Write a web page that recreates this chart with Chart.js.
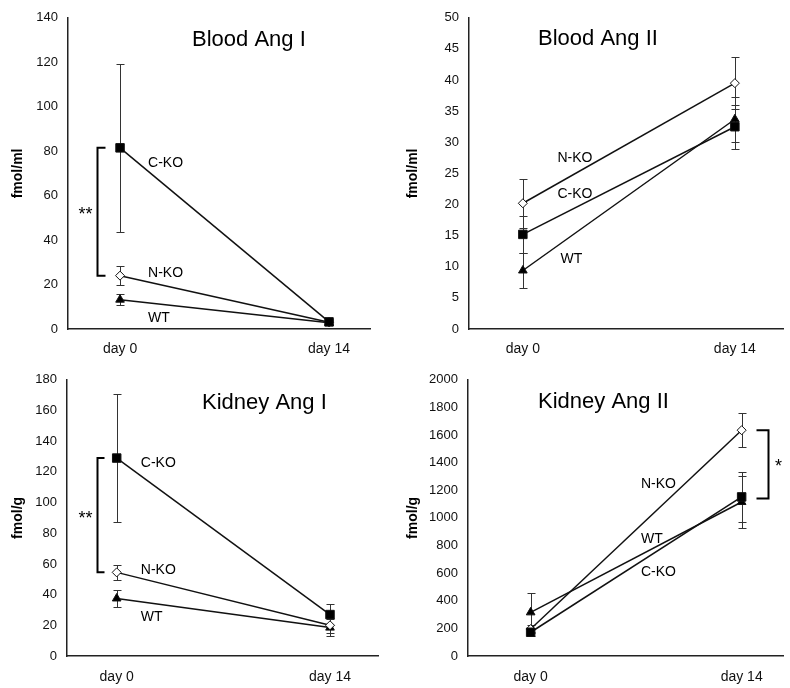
<!DOCTYPE html>
<html>
<head>
<meta charset="utf-8">
<script src="https://cdn.jsdelivr.net/npm/chart.js@4.4.0/dist/chart.umd.min.js"></script>
<style>
  body { margin: 0; background: #fff; width: 790px; height: 688px; position: relative; overflow: hidden; }
  canvas { position: absolute; }
</style>
</head>
<body>
<canvas id="bloodAngI" width="395" height="362" style="left:0;top:0"></canvas>
<canvas id="bloodAngII" width="395" height="362" style="left:395px;top:0"></canvas>
<canvas id="kidneyAngI" width="395" height="326" style="left:0;top:362px"></canvas>
<canvas id="kidneyAngII" width="395" height="326" style="left:395px;top:362px"></canvas>
<script>
// x categories
const days = ['day 0', 'day 14'];

// Blood Ang I (fmol/ml): mean and error, [day 0, day 14]
const bloodAngI_CKO = [81.5, 3.2];
const bloodAngI_CKO_err = [37.8, 1.5];
const bloodAngI_NKO = [24, 3];
const bloodAngI_NKO_err = [4.2, 1];
const bloodAngI_WT = [13.2, 2.8];
const bloodAngI_WT_err = [2.4, 1];

// Blood Ang II (fmol/ml)
const bloodAngII_CKO = [15.2, 32.5];
const bloodAngII_CKO_err = [3, 3.5];
const bloodAngII_NKO = [20.2, 39.5];
const bloodAngII_NKO_err = [3.9, 4.2];
const bloodAngII_WT = [9.4, 33.7];
const bloodAngII_WT_err = [2.8, 3.6];

// Kidney Ang I (fmol/g)
const kidneyAngI_CKO = [129, 27];
const kidneyAngI_CKO_err = [41.8, 7];
const kidneyAngI_NKO = [54.5, 20];
const kidneyAngI_NKO_err = [4.9, 5];
const kidneyAngI_WT = [37.5, 18.5];
const kidneyAngI_WT_err = [5.8, 5.5];

// Kidney Ang II (fmol/g)
const kidneyAngII_CKO = [172, 1152];
const kidneyAngII_CKO_err = [25, 180];
const kidneyAngII_NKO = [195, 1635];
const kidneyAngII_NKO_err = [30, 125];
const kidneyAngII_WT = [316, 1115];
const kidneyAngII_WT_err = [140, 185];

Chart.defaults.font.family = '"Liberation Sans", Arial, sans-serif';
Chart.defaults.color = '#111';

function series(cko, ckoErr, nko, nkoErr, wt, wtErr) {
    return [
        { name: 'C-KO', values: cko, err: ckoErr, style: 'rect', radius: 6, fill: '#000' },
        { name: 'N-KO', values: nko, err: nkoErr, style: 'rectRot', radius: 4.5, fill: '#fff' },
        { name: 'WT', values: wt, err: wtErr, style: 'triangle', radius: 5, fill: '#000' }
    ];
}

const panels = [
    {
        id: 'bloodAngI', title: 'Blood Ang I', unit: 'fmol/ml', yMax: 140, yStep: 20,
        width: 395, height: 362, area: { left: 68, right: 370, top: 15, bottom: 329 },
        xMin: -0.249, xMax: 1.196, xPad: 12,
        series: series(bloodAngI_CKO, bloodAngI_CKO_err, bloodAngI_NKO, bloodAngI_NKO_err, bloodAngI_WT, bloodAngI_WT_err),
        titlePos: { x: 192, y: 40 },
        labels: [
            { text: 'C-KO', x: 0.134, y: 74.5 },
            { text: 'N-KO', x: 0.134, y: 25 },
            { text: 'WT', x: 0.134, y: 4.9 }
        ],
        bracket: { x: -0.11, top: bloodAngI_CKO[0], bottom: bloodAngI_NKO[0], arm: 8, star: '**', starDx: -12, starY: 53 }
    },
    {
        id: 'bloodAngII', title: 'Blood Ang II', unit: 'fmol/ml', yMax: 50, yStep: 5,
        width: 395, height: 362, area: { left: 74, right: 390, top: 16, bottom: 329 },
        xMin: -0.254, xMax: 1.227, xPad: 12,
        series: series(bloodAngII_CKO, bloodAngII_CKO_err, bloodAngII_NKO, bloodAngII_NKO_err, bloodAngII_WT, bloodAngII_WT_err),
        titlePos: { x: 143, y: 39 },
        labels: [
            { text: 'N-KO', x: 0.163, y: 27.5 },
            { text: 'C-KO', x: 0.163, y: 21.7 },
            { text: 'WT', x: 0.178, y: 11.3 }
        ]
    },
    {
        id: 'kidneyAngI', title: 'Kidney Ang I', unit: 'fmol/g', yMax: 180, yStep: 20,
        width: 395, height: 326, area: { left: 67, right: 378, top: 7, bottom: 294 },
        xMin: -0.233, xMax: 1.225, xPad: 13,
        series: series(kidneyAngI_CKO, kidneyAngI_CKO_err, kidneyAngI_NKO, kidneyAngI_NKO_err, kidneyAngI_WT, kidneyAngI_WT_err),
        titlePos: { x: 202, y: 41 },
        labels: [
            { text: 'C-KO', x: 0.113, y: 125.5 },
            { text: 'N-KO', x: 0.113, y: 55.8 },
            { text: 'WT', x: 0.113, y: 25 }
        ],
        bracket: { x: -0.092, top: kidneyAngI_CKO[0], bottom: kidneyAngI_NKO[0], arm: 7, star: '**', starDx: -12, starY: 91.6 }
    },
    {
        id: 'kidneyAngII', title: 'Kidney Ang II', unit: 'fmol/g', yMax: 2000, yStep: 200,
        width: 395, height: 326, area: { left: 73, right: 390, top: 7, bottom: 294 },
        xMin: -0.297, xMax: 1.196, xPad: 13,
        series: series(kidneyAngII_CKO, kidneyAngII_CKO_err, kidneyAngII_NKO, kidneyAngII_NKO_err, kidneyAngII_WT, kidneyAngII_WT_err),
        titlePos: { x: 143, y: 40 },
        labels: [
            { text: 'N-KO', x: 0.523, y: 1247 },
            { text: 'WT', x: 0.523, y: 843 },
            { text: 'C-KO', x: 0.523, y: 606 }
        ],
        bracket: { x: 1.125, top: kidneyAngII_NKO[1], bottom: 1140, arm: -12, star: '*', starDx: 10, starY: 1394 }
    }
];

// error bars drawn under the markers
const errorBars = {
    id: 'errorBars',
    beforeDatasetsDraw(chart) {
        const { ctx, scales: { x, y } } = chart;
        ctx.save();
        ctx.strokeStyle = '#333';
        ctx.lineWidth = 1;
        chart.data.datasets.forEach(ds => {
            ds.data.forEach((pt, i) => {
                const px = Math.round(x.getPixelForValue(pt.x)) + 0.5;
                const top = Math.round(y.getPixelForValue(pt.y + ds.err[i])) + 0.5;
                const bot = Math.round(y.getPixelForValue(pt.y - ds.err[i])) + 0.5;
                ctx.beginPath();
                ctx.moveTo(px, top); ctx.lineTo(px, bot);
                ctx.moveTo(px - 4, top); ctx.lineTo(px + 4, top);
                ctx.moveTo(px - 4, bot); ctx.lineTo(px + 4, bot);
                ctx.stroke();
            });
        });
        ctx.restore();
    }
};

// title, group labels and significance bracket
const annotations = {
    id: 'annotations',
    afterDraw(chart) {
        const p = chart.options.plugins.annotations;
        const { ctx, scales: { x, y } } = chart;
        ctx.save();
        ctx.fillStyle = '#000';
        ctx.textBaseline = 'middle';
        ctx.textAlign = 'left';
        ctx.font = '22px "Liberation Sans", Arial, sans-serif';
        ctx.fillText(p.title, p.titlePos.x, p.titlePos.y);

        ctx.font = '14px "Liberation Sans", Arial, sans-serif';
        p.labels.forEach(l => {
            ctx.fillText(l.text, x.getPixelForValue(l.x), y.getPixelForValue(l.y));
        });

        const b = p.bracket;
        if (b) {
            const bx = Math.round(x.getPixelForValue(b.x)) + 0.5;
            const t = y.getPixelForValue(b.top);
            const bt = y.getPixelForValue(b.bottom);
            ctx.strokeStyle = '#000';
            ctx.lineWidth = 2;
            ctx.beginPath();
            ctx.moveTo(bx + b.arm, t); ctx.lineTo(bx, t);
            ctx.lineTo(bx, bt); ctx.lineTo(bx + b.arm, bt);
            ctx.stroke();
            ctx.textAlign = 'center';
            ctx.font = '18px "Liberation Sans", Arial, sans-serif';
            ctx.fillText(b.star, bx + b.starDx, y.getPixelForValue(b.starY) + 4);
        }
        ctx.restore();
    }
};

function makeChart(p) {
    const canvas = document.getElementById(p.id);
    new Chart(canvas, {
        type: 'line',
        data: {
            datasets: p.series.map(s => ({
                label: s.name,
                data: s.values.map((v, i) => ({ x: i, y: v })),
                err: s.err,
                borderColor: '#111',
                borderWidth: 1.5,
                pointStyle: s.style,
                pointRadius: s.radius,
                pointBackgroundColor: s.fill,
                pointBorderColor: '#111',
                pointBorderWidth: 1,
                clip: false
            }))
        },
        options: {
            responsive: false,
            animation: false,
            events: [],
            layout: { padding: { top: p.area.top, right: p.width - p.area.right, left: 0, bottom: 0 } },
            plugins: {
                legend: { display: false },
                tooltip: { enabled: false },
                annotations: p
            },
            scales: {
                x: {
                    type: 'linear',
                    min: p.xMin,
                    max: p.xMax,
                    grid: { display: false, drawTicks: false },
                    border: { display: true, color: '#222', width: 1.5 },
                    afterBuildTicks: scale => { scale.ticks = days.map((d, i) => ({ value: i })); },
                    ticks: {
                        callback: v => days[v],
                        font: { size: 14 },
                        color: '#111',
                        padding: p.xPad,
                        maxRotation: 0,
                        autoSkip: false
                    },
                    afterFit: scale => { scale.height = p.height - p.area.bottom; }
                },
                y: {
                    min: 0,
                    max: p.yMax,
                    grid: { display: false, drawTicks: false },
                    border: { display: true, color: '#222', width: 1.5 },
                    ticks: { stepSize: p.yStep, font: { size: 13 }, color: '#111', padding: 10, callback: v => String(v) },
                    title: {
                        display: true,
                        text: p.unit,
                        font: { size: 14, weight: 'bold' },
                        color: '#000',
                        padding: { top: 10, bottom: 0 }
                    },
                    afterFit: scale => { scale.width = p.area.left; }
                }
            }
        },
        plugins: [errorBars, annotations]
    });
}

panels.forEach(makeChart);
</script>
</body>
</html>
